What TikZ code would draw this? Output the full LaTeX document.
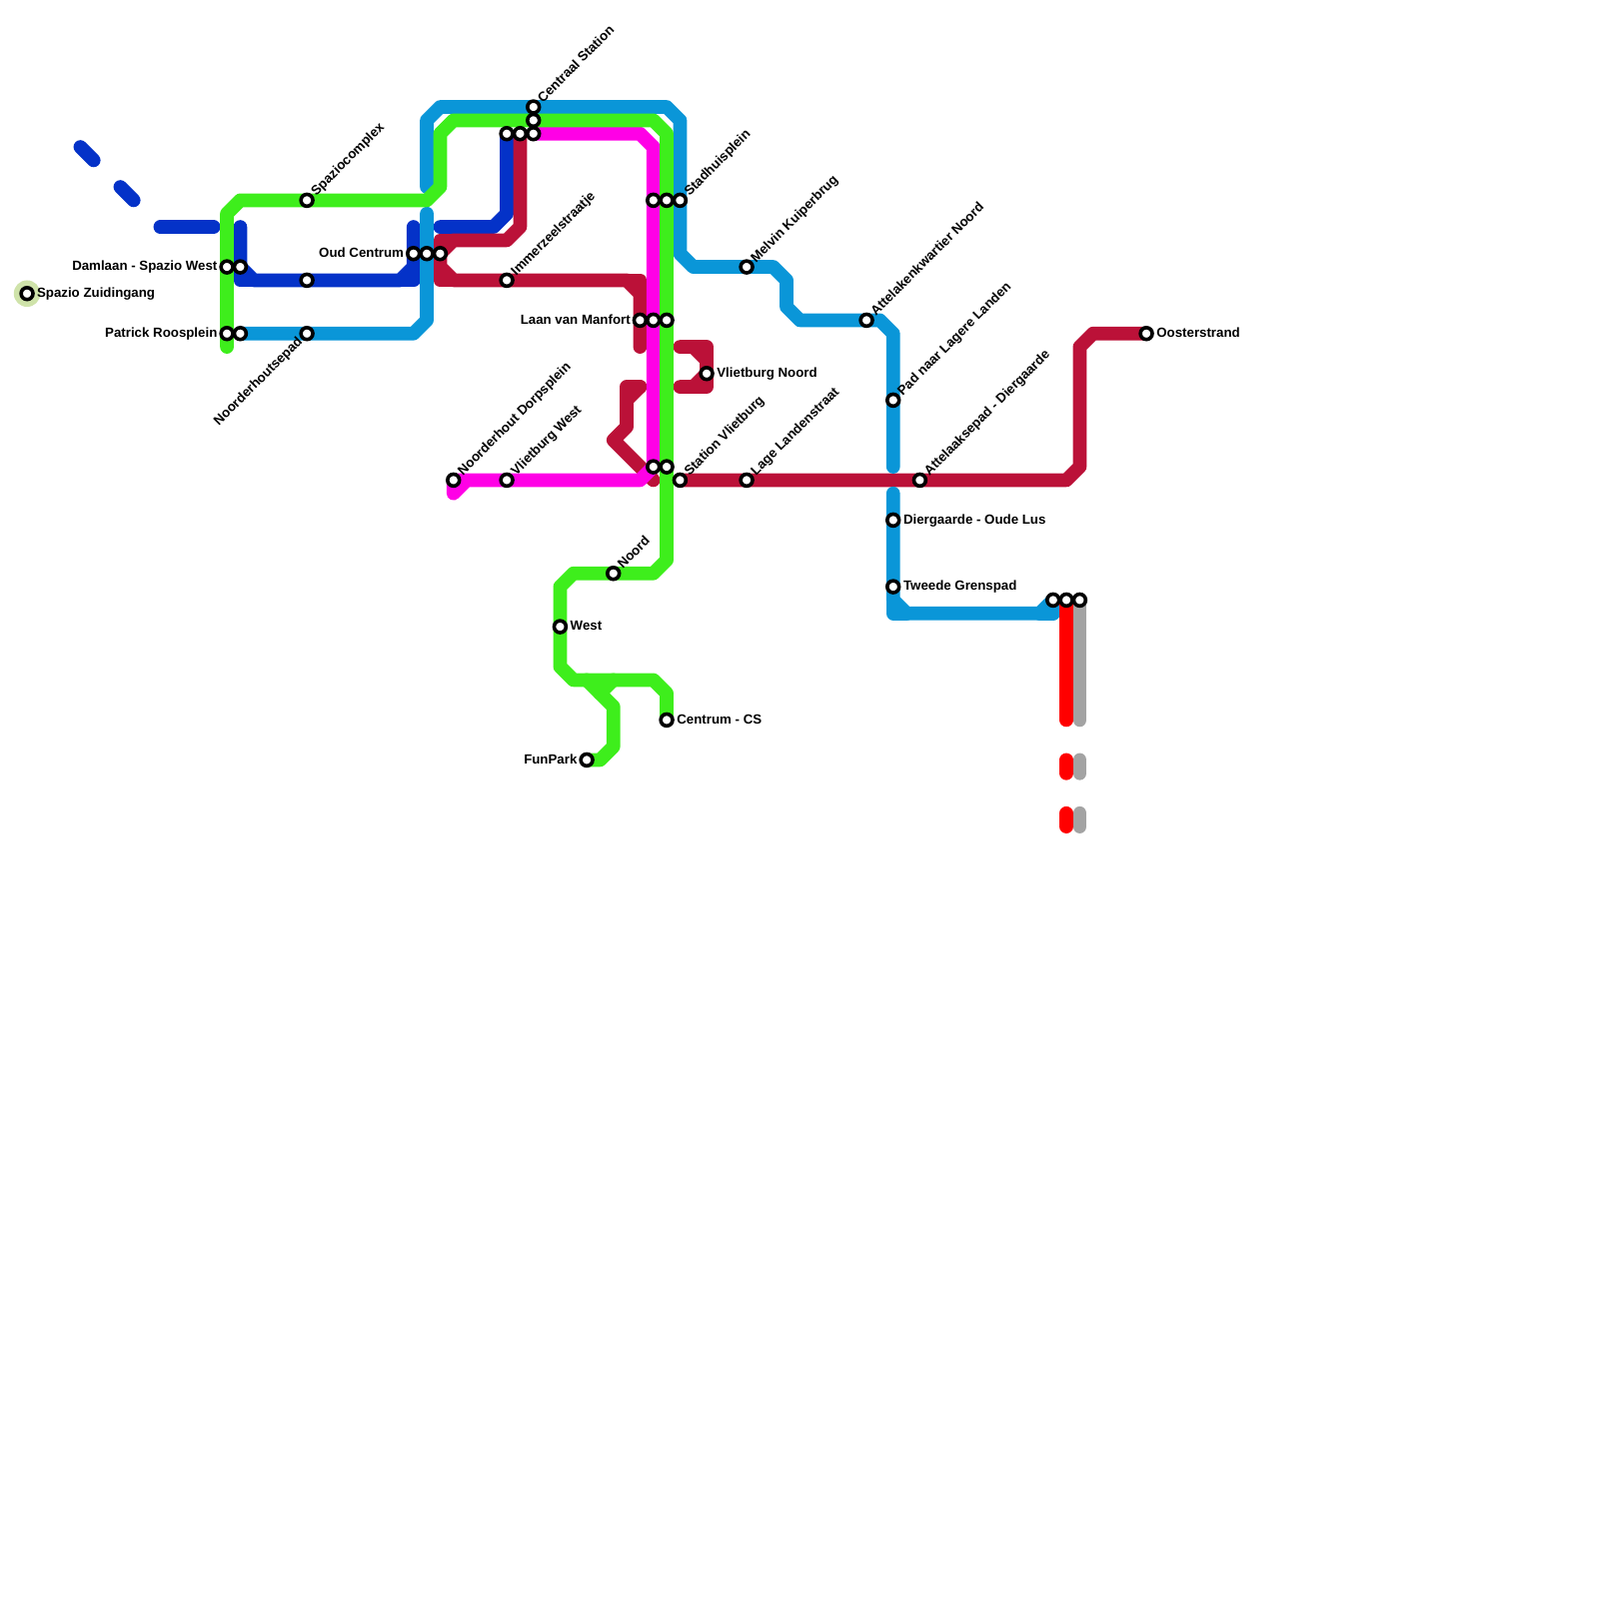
\documentclass[tikz,border=0pt]{standalone}
\usepackage{xcolor}
\usepackage{fontspec}
\setmainfont{Liberation Sans}
\usepackage{tikz}
\usetikzlibrary{positioning,backgrounds}
\definecolor{lineblue}{HTML}{0432C8}
\definecolor{linegreen}{HTML}{3EEE1C}
\definecolor{linesky}{HTML}{0A96D8}
\definecolor{linewine}{HTML}{BB1138}
\definecolor{linepink}{HTML}{FF00E6}
\definecolor{linered}{HTML}{FF0000}
\definecolor{linegrey}{HTML}{A3A3A3}
\definecolor{halocol}{HTML}{CFE3AA}

\begin{document}
\begin{tikzpicture}[
  x=3mm, y=-3mm,
  font=\bfseries\fontsize{8.5pt}{10pt}\selectfont,
  node distance=2.4pt and 6pt,
  stn/.style={circle, draw=black, fill=white, line width=2.3pt, minimum size=7.6pt, inner sep=0pt},
  halo/.style={circle, fill=halocol, minimum size=17pt, inner sep=0pt},
  lblne/.style={rotate=45, anchor=base west, inner sep=0pt},
  lblsw/.style={rotate=45, anchor=base east, inner sep=0pt},
  lblr/.style={anchor=base west, inner sep=0pt},
  lbll/.style={anchor=base east, inner sep=0pt},
  metro/.style={line width=8.8pt, line cap=round, line join=round},
  blue/.style={metro, draw=lineblue},
  green/.style={metro, draw=linegreen},
  sky/.style={metro, draw=linesky},
  wine/.style={metro, draw=linewine},
  pink/.style={metro, draw=linepink},
  redl/.style={metro, draw=linered},
  grey/.style={metro, draw=linegrey}
]
\useasboundingbox (-0.03,-0.03) rectangle (119.97,119.97);
% stations
\node[stn] (zuid) at (2,22) {};
\node[stn] (damlaan) at (17,20) {};
\node[stn] (damlaanb) at (18,20) {};
\node[stn] (patrick) at (17,25) {};
\node[stn] (patrickb) at (18,25) {};
\node[stn] (spazio) at (23,15) {};
\node[stn] (mid) at (23,21) {};
\node[stn] (noordh) at (23,25) {};
\node[stn] (oud) at (31,19) {};
\node[stn] (oudb) at (32,19) {};
\node[stn] (oudc) at (33,19) {};
\node[stn] (centb) at (38,10) {};
\node[stn] (centc) at (39,10) {};
\node[stn] (centd) at (40,10) {};
\node[stn] (cente) at (40,9) {};
\node[stn] (central) at (40,8) {};
\node[stn] (immer) at (38,21) {};
\node[stn] (stadb) at (49,15) {};
\node[stn] (stadc) at (50,15) {};
\node[stn] (stad) at (51,15) {};
\node[stn] (manfort) at (48,24) {};
\node[stn] (manfortb) at (49,24) {};
\node[stn] (manfortc) at (50,24) {};
\node[stn] (vnoord) at (53,28) {};
\node[stn] (melvin) at (56,20) {};
\node[stn] (dorps) at (34,36) {};
\node[stn] (vwest) at (38,36) {};
\node[stn] (vlietb) at (49,35) {};
\node[stn] (vlietc) at (50,35) {};
\node[stn] (vliet) at (51,36) {};
\node[stn] (lage) at (56,36) {};
\node[stn] (noord) at (46,43) {};
\node[stn] (west) at (42,47) {};
\node[stn] (centrum) at (50,54) {};
\node[stn] (funpark) at (44,57) {};
\node[stn] (attnoord) at (65,24) {};
\node[stn] (lagere) at (67,30) {};
\node[stn] (attpad) at (69,36) {};
\node[stn] (dier) at (67,39) {};
\node[stn] (tweede) at (67,44) {};
\node[stn] (endb) at (79,45) {};
\node[stn] (endc) at (80,45) {};
\node[stn] (endd) at (81,45) {};
\node[stn] (oost) at (86,25) {};
% labels
\node[right=6.2pt of zuid.center, yshift=-2.5pt, lblr] (tzuid) {Spazio Zuidingang};
\node[left=6pt of damlaan.center, yshift=-2.5pt, lbll] (tdamlaan) {Damlaan - Spazio West};
\node[left=6pt of patrick.center, yshift=-2.5pt, lbll] (tpatrick) {Patrick Roosplein};
\node[left=6pt of oud.center, yshift=-2.5pt, lbll] (toud) {Oud Centrum};
\node[left=6pt of manfort.center, yshift=-2.5pt, lbll] (tmanfort) {Laan van Manfort};
\node[left=6pt of funpark.center, yshift=-2.5pt, lbll] (tfunpark) {FunPark};
\node[right=6.4pt of vnoord.center, yshift=-2.5pt, lblr] (tvnoord) {Vlietburg Noord};
\node[right=6.4pt of west.center, yshift=-2.5pt, lblr] (twest) {West};
\node[right=6.4pt of centrum.center, yshift=-2.5pt, lblr] (tcentrum) {Centrum - CS};
\node[right=6.4pt of dier.center, yshift=-2.5pt, lblr] (tdier) {Diergaarde - Oude Lus};
\node[right=6.4pt of tweede.center, yshift=-2.5pt, lblr] (ttweede) {Tweede Grenspad};
\node[right=6.4pt of oost.center, yshift=-2.5pt, lblr] (toost) {Oosterstrand};
\node[above right=of spazio.center, lblne] (tspazio) {Spaziocomplex};
\node[above right=of central.center, lblne] (tcentral) {Centraal Station};
\node[above right=of immer.center, lblne] (timmer) {Immerzeelstraatje};
\node[above right=of stad.center, lblne] (tstad) {Stadhuisplein};
\node[above right=of melvin.center, lblne] (tmelvin) {Melvin Kuiperbrug};
\node[above right=of attnoord.center, lblne] (tattnoord) {Attelakenkwartier Noord};
\node[above right=of lagere.center, lblne] (tlagere) {Pad naar Lagere Landen};
\node[above right=of attpad.center, lblne] (tattpad) {Attelaaksepad - Diergaarde};
\node[above right=of dorps.center, lblne] (tdorps) {Noorderhout Dorpsplein};
\node[above right=of vwest.center, lblne] (tvwest) {Vlietburg West};
\node[above right=of vliet.center, lblne] (tvliet) {Station Vlietburg};
\node[above right=of lage.center, lblne] (tlage) {Lage Landenstraat};
\node[above right=of noord.center, lblne] (tnoord) {Noord};
\node[below left=5.4pt and 2.4pt of noordh.center, lblsw] (tnoordh) {Noorderhoutsepad};
% lines
\begin{scope}[on background layer]
\node[halo] (zuidhalo) at (zuid.center) {};
\draw[blue] (6,11) -- (7,12);
\draw[blue] (9,14) -- (10,15);
\draw[blue] (12,17) -- (16,17);
\draw[blue] (18,17) -- (damlaanb.center) -- (19,21) -- (mid.center) -- (30,21) -- (31,20) -- (31,17);
\draw[blue] (damlaanb.center) -- (18,21) -- (19,21);
\draw[blue] (30,21) -- (31,21) -- (31,20);
\draw[blue] (33,17) -- (37,17) -- (38,16) -- (centb.center);
\draw[wine] (centc.center) -- (39,17) -- (38,18) -- (34,18) -- (oudc.center) -- (33,20) -- (34,21) -- (immer.center) -- (47,21) -- (48,22) -- (manfort.center) -- (48,26);
\draw[wine] (34,18) -- (33,18) -- (oudc.center);
\draw[wine] (33,20) -- (33,21) -- (34,21);
\draw[wine] (47,21) -- (48,21) -- (48,22);
\draw[wine] (51,26) -- (52,26) -- (53,27) -- (vnoord.center) -- (52,29) -- (51,29);
\draw[wine] (52,26) -- (53,26) -- (53,27);
\draw[wine] (vnoord.center) -- (53,29) -- (52,29);
\draw[wine] (48,29) -- (47,30) -- (47,32) -- (46,33) -- (49,36);
\draw[wine] (48,29) -- (47,29) -- (47,30);
\draw[wine] (vliet.center) -- (lage.center) -- (attpad.center) -- (80,36) -- (81,35) -- (81,26) -- (82,25) -- (oost.center);
\draw[sky] (patrickb.center) -- (noordh.center) -- (31,25) -- (32,24) -- (oudb.center) -- (32,16);
\draw[sky] (32,14) -- (32,9) -- (33,8) -- (central.center) -- (50,8) -- (51,9) -- (stad.center) -- (51,19) -- (52,20) -- (melvin.center) -- (58,20) -- (59,21) -- (59,23) -- (60,24) -- (attnoord.center) -- (66,24) -- (67,25) -- (lagere.center) -- (67,35);
\draw[sky] (67,37) -- (dier.center) -- (tweede.center) -- (67,45) -- (68,46) -- (78,46) -- (endb.center);
\draw[sky] (67,45) -- (67,46) -- (68,46);
\draw[sky] (78,46) -- (79,46) -- (endb.center);
\draw[pink] (centd.center) -- (48,10) -- (49,11) -- (stadb.center) -- (manfortb.center) -- (vlietb.center) -- (48,36) -- (vwest.center) -- (dorps.center) -- (34,37) -- (35,36);
\draw[green] (17,26) -- (patrick.center) -- (damlaan.center) -- (17,16) -- (18,15) -- (spazio.center) -- (32,15) -- (33,14) -- (33,10) -- (34,9) -- (cente.center) -- (49,9) -- (50,10) -- (stadc.center) -- (manfortc.center) -- (vlietc.center) -- (50,42) -- (49,43) -- (noord.center) -- (43,43) -- (42,44) -- (west.center) -- (42,50) -- (43,51) -- (49,51) -- (50,52) -- (centrum.center);
\draw[green] (44,51) -- (46,53) -- (46,56) -- (45,57) -- (funpark.center);
\draw[green] (46,51) -- (45,52);
\draw[redl] (endc.center) -- (80,54);
\draw[redl] (80,57) -- (80,58);
\draw[redl] (80,61) -- (80,62);
\draw[grey] (endd.center) -- (81,54);
\draw[grey] (81,57) -- (81,58);
\draw[grey] (81,61) -- (81,62);
\end{scope}
\end{tikzpicture}
\end{document}
